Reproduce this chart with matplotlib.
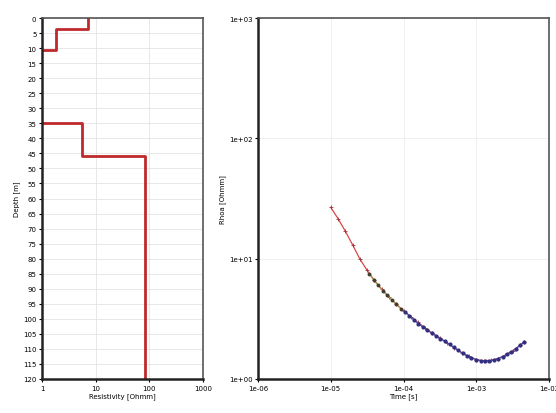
import numpy as np
import matplotlib.pyplot as plt

# layered model (resistivity in Ohmm, layer tops in m)
layer_rho = [7.2, 1.8, 0.4, 5.5, 83.0]
layer_top = [0.0, 3.5, 10.5, 35.0, 46.0]
max_depth = 120.0

# model response
t_model = [1.0e-5, 1.26e-5, 1.58e-5, 2.0e-5, 2.5e-5, 3.16e-5, 3.98e-5, 5.0e-5,
           6.3e-5, 7.9e-5, 1.0e-4, 1.26e-4, 1.58e-4, 2.0e-4, 2.5e-4, 3.16e-4,
           3.98e-4, 5.0e-4, 6.3e-4, 7.9e-4, 1.0e-3, 1.26e-3, 1.58e-3, 2.0e-3,
           2.5e-3, 3.16e-3, 3.98e-3, 4.5e-3]
rho_model = [26.7, 21.5, 17.0, 13.0, 10.0, 8.0, 6.6, 5.6,
             4.8, 4.2, 3.7, 3.3, 2.95, 2.65, 2.4, 2.2,
             2.0, 1.82, 1.66, 1.54, 1.45, 1.42, 1.43, 1.48,
             1.58, 1.72, 1.9, 2.02]

# measured data
t_early = [3.4e-5, 3.9e-5, 4.5e-5, 5.2e-5, 6.0e-5, 6.9e-5, 7.9e-5, 9.1e-5]
rho_early = [7.5, 6.6, 6.0, 5.4, 4.95, 4.55, 4.2, 3.85]
t_late = [1.05e-4, 1.2e-4, 1.38e-4, 1.6e-4, 1.84e-4, 2.1e-4, 2.45e-4, 2.8e-4,
          3.2e-4, 3.7e-4, 4.3e-4, 4.9e-4, 5.6e-4, 6.5e-4, 7.5e-4, 8.6e-4,
          1.0e-3, 1.15e-3, 1.32e-3, 1.52e-3, 1.75e-3, 2.0e-3, 2.3e-3, 2.65e-3,
          3.05e-3, 3.5e-3, 4.0e-3, 4.5e-3]
rho_late = [3.62, 3.35, 3.1, 2.88, 2.7, 2.55, 2.4, 2.28,
            2.17, 2.05, 1.94, 1.83, 1.73, 1.63, 1.56, 1.5,
            1.45, 1.42, 1.41, 1.42, 1.44, 1.48, 1.53, 1.6,
            1.68, 1.78, 1.9, 2.02]

fig = plt.figure(figsize=(5.56, 4.14), dpi=100)
fs = 5

# --- resistivity vs depth ---
ax1 = fig.add_axes([42/556, 34/414, 161/556, 361/414])
xs, ys = [], []
bottoms = layer_top[1:] + [max_depth]
for r, top, bot in zip(layer_rho, layer_top, bottoms):
    xs += [r, r]
    ys += [top, bot]
ax1.plot(xs, ys, color='#c0282c', lw=2)
ax1.set_xscale('log')
ax1.set_xlim(1, 1000)
ax1.set_ylim(120, 0)
ax1.set_yticks(np.arange(0, 121, 5))
ax1.set_xticks([1, 10, 100, 1000])
ax1.set_xticklabels(['1', '10', '100', '1000'])
ax1.minorticks_off()
ax1.grid(True, color='#e4e4e4', lw=0.6)
ax1.set_xlabel('Resistivity [Ohmm]', fontsize=fs, labelpad=1)
ax1.set_ylabel('Depth [m]', fontsize=fs, labelpad=2)
ax1.tick_params(labelsize=fs, length=2, pad=2)

# --- apparent resistivity vs time ---
ax2 = fig.add_axes([258/556, 34/414, 291/556, 361/414])
ax2.plot(t_model, rho_model, color='#d84848', lw=0.9, marker='+', ms=2.5,
         mec='#a03040', mew=0.6)
ax2.plot(t_early, rho_early, color='#9aa040', lw=0.8, marker='o', ms=1.8,
         mfc='#404030', mec='#404030')
ax2.plot(t_late, rho_late, color='#4050c0', lw=0.8, marker='o', ms=2,
         mfc='#303080', mec='#303080')
ax2.set_xscale('log')
ax2.set_yscale('log')
ax2.set_xlim(1e-6, 1e-2)
ax2.set_ylim(1, 1000)
ax2.set_xticks([1e-6, 1e-5, 1e-4, 1e-3, 1e-2])
ax2.set_xticklabels(['1e-06', '1e-05', '1e-04', '1e-03', '1e-02'])
ax2.set_yticks([1, 10, 100, 1000])
ax2.set_yticklabels(['1e+00', '1e+01', '1e+02', '1e+03'])
ax2.minorticks_off()
ax2.grid(True, color='#ececec', lw=0.6)
ax2.set_xlabel('Time [s]', fontsize=fs, labelpad=1)
ax2.set_ylabel('Rhoa [Ohmm]', fontsize=fs, labelpad=2)
ax2.tick_params(labelsize=fs, length=2, pad=2)

for ax in (ax1, ax2):
    for s in ax.spines.values():
        s.set_color('#555555')
        s.set_linewidth(1.2)
    ax.spines['left'].set_color('#222222')
    ax.spines['bottom'].set_color('#222222')
    ax.spines['left'].set_linewidth(1.8)
    ax.spines['bottom'].set_linewidth(1.8)

fig.savefig('out.png', dpi=100)
